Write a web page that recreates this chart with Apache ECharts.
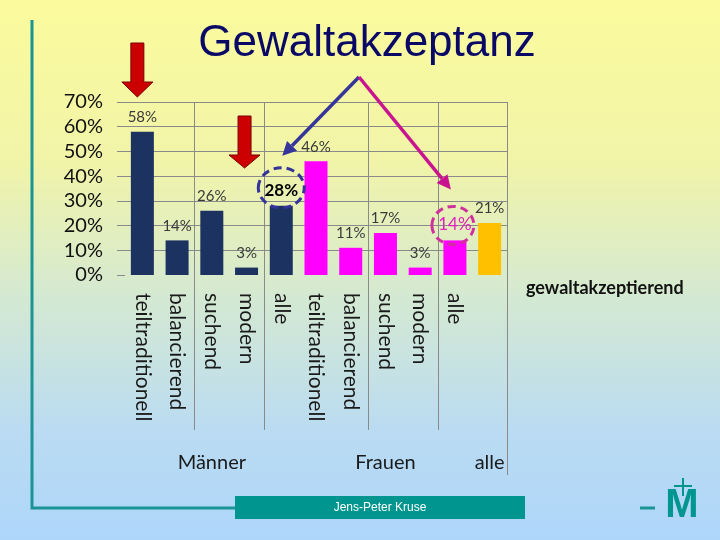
<!DOCTYPE html>
<html>
<head>
<meta charset="utf-8">
<script src="https://cdn.jsdelivr.net/npm/echarts@6/dist/echarts.min.js"></script>
<style>
html,body{margin:0;padding:0;}
#c{width:720px;height:540px;}
</style>
</head>
<body>
<div id="c"></div>
<script>
// ---- data ----
const categories = ['teiltraditionell','balancierend','suchend','modern','alle','teiltraditionell','balancierend','suchend','modern','alle',''];
const values = [0.58,0.14,0.26,0.03,0.28,0.46,0.11,0.17,0.03,0.14,0.21];
const groups = ['Männer','Frauen','alle'];
const groupCenterIndex = [2,7,10];
const separatorBoundaries = [2,4,7,9,11];
const yTicks = [0,0.1,0.2,0.3,0.4,0.5,0.6,0.7];
const seriesName = 'gewaltakzeptierend';
const title = 'Gewaltakzeptanz';
const footer = 'Jens-Peter Kruse';

const NAVY = '#1c3260', MAG = '#ff00ff', ORA = '#ffc000';
const barColors = [NAVY,NAVY,NAVY,NAVY,NAVY,MAG,MAG,MAG,MAG,MAG,ORA];
const FONT = 'Lato';

const chart = echarts.init(document.getElementById('c'));

const data = values.map((v,i)=>{
  const d = {value:v, itemStyle:{color:barColors[i]}};
  if(i===4) d.label = {color:'#000', fontWeight:'bold', fontSize:17};
  if(i===9) d.label = {color:'#e020c0', fontSize:17};
  return d;
});

chart.setOption({
  backgroundColor:{type:'linear',x:0,y:0,x2:0,y2:1,colorStops:[
    {offset:0,color:'#fbfb9d'},{offset:0.3,color:'#f1f4a8'},{offset:0.55,color:'#d4e9d2'},
    {offset:0.8,color:'#badbf2'},{offset:1,color:'#aed6fa'}]},
  animation:false,
  title:{text:title,left:362,top:17,textAlign:'center',
    textStyle:{fontFamily:'Liberation Sans',fontSize:44,fontWeight:'normal',color:'#0a0a66'}},
  legend:{data:[{name:seriesName,icon:'none'}],left:516,top:274,itemWidth:0,itemGap:0,
    textStyle:{fontFamily:FONT,fontSize:18,fontWeight:'bold',color:'#111'}},
  grid:{left:125,right:213,top:102,bottom:265,containLabel:false},
  xAxis:{type:'category',data:categories,
    axisLine:{show:false},axisTick:{show:false},
    axisLabel:{interval:0,rotate:-90,margin:18,fontFamily:FONT,fontSize:21,color:'#1a1a1a'}},
  yAxis:{type:'value',min:0,max:0.7,interval:0.1,
    axisLine:{show:false},
    axisTick:{show:true,length:8,lineStyle:{color:'#8a8a8a'}},
    splitLine:{show:true,showMinLine:false,lineStyle:{color:'#8a8a8a',width:1}},
    axisLabel:{margin:22,fontFamily:FONT,fontSize:20,color:'#111',
      formatter:v=>Math.round(v*100)+'%'}},
  series:[{name:seriesName,type:'bar',data:data,barWidth:23,
    itemStyle:{color:NAVY},
    label:{show:true,position:'top',distance:7,fontFamily:FONT,fontSize:15,color:'#3a3a3a',
      formatter:p=>Math.round(p.value*100)+'%'}}]
});

// ---- decorations positioned from the axes ----
const px = (i,v)=>chart.convertToPixel({gridIndex:0},[i,v]);
const x0 = px(0,0)[0], step = px(1,0)[0]-x0;
const yTop = px(0,0.7)[1], yZero = px(0,0)[1];
const g = [];
separatorBoundaries.forEach((b,k)=>{
  const x = Math.round(x0 - step/2 + b*step)+0.5;
  const yEnd = (k===separatorBoundaries.length-1)?475:430;
  g.push({type:'line',shape:{x1:x,y1:yTop,x2:x,y2:yEnd},style:{stroke:'#8a8a8a',lineWidth:1},z:1});
});
groups.forEach((t,k)=>{
  const x = px(groupCenterIndex[k],0)[0];
  g.push({type:'text',x:x,y:463,style:{text:t,fontFamily:FONT,fontSize:20,fill:'#1a1a1a',align:'center',verticalAlign:'middle'}});
});
// dashed circles around highlighted labels
const c1 = px(4,values[4]), c2 = px(9,values[9]);
g.push({type:'ellipse',shape:{cx:c1[0],cy:c1[1]-18,rx:23,ry:20},style:{fill:null,stroke:'#33339a',lineWidth:3,lineDash:[8,5]},z:10});
g.push({type:'ellipse',shape:{cx:c2[0]-2,cy:c2[1]-15,rx:21,ry:19},style:{fill:null,stroke:'#d0309c',lineWidth:3,lineDash:[8,5]},z:10});
// pointer lines from apex
const apex = [359,77];
function arrow(x1,y1,x2,y2,color){
  const a = Math.atan2(y2-y1,x2-x1), L=14, W=7;
  const bx = x2 - L*Math.cos(a), by = y2 - L*Math.sin(a);
  g.push({type:'line',shape:{x1:x1,y1:y1,x2:bx,y2:by},style:{stroke:color,lineWidth:3.5},z:10});
  g.push({type:'polygon',shape:{points:[[x2,y2],[bx+W*Math.sin(a),by-W*Math.cos(a)],[bx-W*Math.sin(a),by+W*Math.cos(a)]]},style:{fill:color},z:10});
}
arrow(apex[0],apex[1],c1[0]+1,c1[1]-50,'#35359a');
arrow(apex[0],apex[1],c2[0]-4,c2[1]-51,'#c8158f');
// red down arrows
function downArrow(cx,top,headTop,tip){
  g.push({type:'polygon',shape:{points:[[cx-6.5,top],[cx+6.5,top],[cx+6.5,headTop],[cx+15.5,headTop],[cx,tip],[cx-15.5,headTop],[cx-6.5,headTop]]},
    style:{fill:'#cc0000',stroke:'#7a0000',lineWidth:1},z:10});
}
downArrow(px(0,0)[0]-5,43,82,97);
downArrow(px(3,0)[0]-2,116,155,168);
// frame lines, footer, logo
g.push({type:'polyline',shape:{points:[[32,20],[32,508],[235,508]]},style:{stroke:'#1a9494',lineWidth:3,fill:null}});
g.push({type:'line',shape:{x1:640,y1:508,x2:655,y2:508},style:{stroke:'#1a9494',lineWidth:3}});
g.push({type:'rect',shape:{x:235,y:496,width:290,height:23},style:{fill:'#00968f'}});
g.push({type:'text',x:380,y:507.5,style:{text:footer,fontFamily:'Liberation Sans',fontSize:12,fill:'#ffffff',align:'center',verticalAlign:'middle'}});
g.push({type:'text',x:682,y:506,style:{text:'M',fontFamily:'Liberation Sans',fontSize:40,fontWeight:'bold',fill:'#00968f',align:'center',verticalAlign:'middle'}});
g.push({type:'line',shape:{x1:683,y1:478,x2:683,y2:496},style:{stroke:'#00968f',lineWidth:2}});
g.push({type:'line',shape:{x1:674,y1:486,x2:692,y2:486},style:{stroke:'#00968f',lineWidth:2}});
chart.setOption({graphic:g});
</script>
</body>
</html>
